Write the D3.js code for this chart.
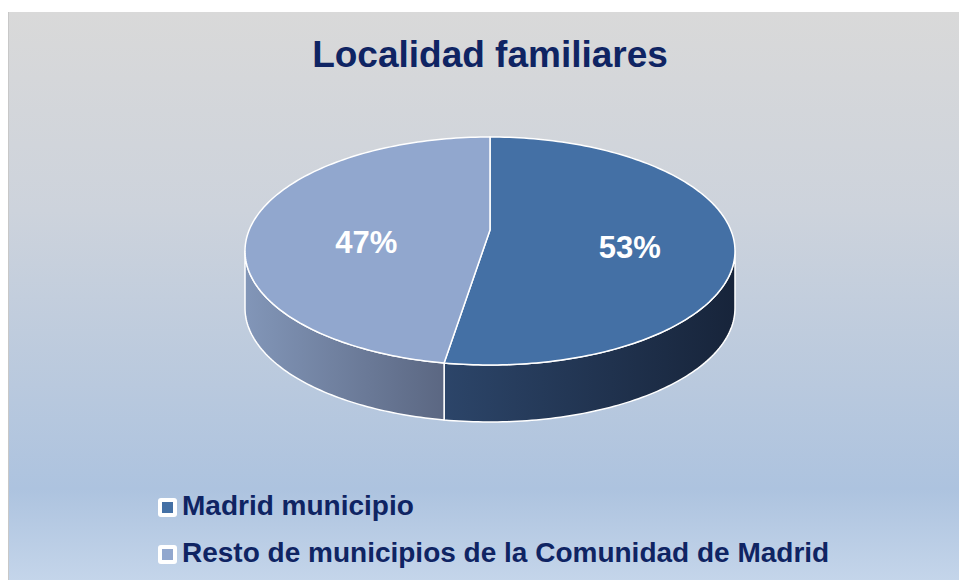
<!DOCTYPE html>
<html>
<head>
<meta charset="utf-8">
<script src="https://cdn.jsdelivr.net/npm/d3@7"></script>
<style>
  html, body { margin: 0; padding: 0; background: #ffffff; }
  svg { display: block; }
  text { font-family: "Liberation Sans", Arial, sans-serif; font-weight: bold; }
</style>
</head>
<body>
<svg id="chart" width="959" height="580"></svg>
<script>
const title = "Localidad familiares";
const categories = ["Madrid municipio", "Resto de municipios de la Comunidad de Madrid"];
const values = [53, 47];
const labels = ["53%", "47%"];
const topColors = ["#4470a5", "#91a7ce"];
const sideColorsLeft = ["#2c4569", "#8296b8"];
const sideColorsRight = ["#17243a", "#5b6782"];

const svg = d3.select("#chart");
const defs = svg.append("defs");

// background gradient
const bg = defs.append("linearGradient").attr("id", "bg").attr("x1", 0).attr("y1", 0).attr("x2", 0).attr("y2", 1);
bg.append("stop").attr("offset", 0).attr("stop-color", "#d9d9d9");
bg.append("stop").attr("offset", 0.35).attr("stop-color", "#cdd3dc");
bg.append("stop").attr("offset", 0.84).attr("stop-color", "#adc3df");
bg.append("stop").attr("offset", 1).attr("stop-color", "#c4d5ea");

svg.append("rect").attr("x", 8).attr("y", 12).attr("width", 951).attr("height", 568).attr("fill", "url(#bg)");
svg.append("line").attr("x1", 8.5).attr("x2", 8.5).attr("y1", 12).attr("y2", 580).attr("stroke", "#c8c8c8").attr("stroke-width", 1);

// title
svg.append("text").attr("x", 490).attr("y", 67).attr("text-anchor", "middle")
  .attr("font-size", 37).attr("fill", "#0f2463").text(title);

// pie geometry
const cx = 490, cy = 251, rx = 245, ry = 114, depth = 57;
const hubY = 230; // projected centre of top face
const pie = d3.pie().sort(null).startAngle(0).endAngle(2 * Math.PI).value(d => d);
const arcs = pie(values);

const px = a => cx + rx * Math.sin(a);
const py = a => cy - ry * Math.cos(a);

function ellipsePts(a0, a1, dy) {
  const n = Math.max(2, Math.ceil(Math.abs(a1 - a0) / 0.02));
  const pts = [];
  for (let i = 0; i <= n; i++) {
    const a = a0 + (a1 - a0) * i / n;
    pts.push([px(a), py(a) + dy]);
  }
  return pts;
}
const line = d3.line();

// side gradients
arcs.forEach((d, i) => {
  const g = defs.append("linearGradient").attr("id", "side" + i).attr("gradientUnits", "objectBoundingBox")
    .attr("x1", 0).attr("y1", 0).attr("x2", 1).attr("y2", 0);
  g.append("stop").attr("offset", 0).attr("stop-color", sideColorsLeft[i]);
  g.append("stop").attr("offset", 1).attr("stop-color", sideColorsRight[i]);
});

// sides (front half: angles between PI/2 and 3PI/2)
const pieG = svg.append("g");
arcs.forEach((d, i) => {
  const s = Math.max(d.startAngle, Math.PI / 2);
  const e = Math.min(d.endAngle, 3 * Math.PI / 2);
  if (e <= s) return;
  const topPts = ellipsePts(s, e, 0);
  const botPts = ellipsePts(e, s, depth);
  pieG.append("path").attr("d", line(topPts.concat(botPts)) + "Z")
    .attr("fill", `url(#side${i})`).attr("stroke", "#ffffff").attr("stroke-width", 1.5)
    .attr("stroke-linejoin", "round");
});

// tops
arcs.forEach((d, i) => {
  const pts = [[cx, hubY]].concat(ellipsePts(d.startAngle, d.endAngle, 0));
  pieG.append("path").attr("d", line(pts) + "Z")
    .attr("fill", topColors[i]).attr("stroke", "#ffffff").attr("stroke-width", 1.5)
    .attr("stroke-linejoin", "round");
});

// labels
arcs.forEach((d, i) => {
  const mid = (d.startAngle + d.endAngle) / 2;
  const lx = cx + 8 + rx * 0.54 * Math.sin(mid);
  const ly = 245 - ry * 0.2 * Math.cos(mid);
  pieG.append("text").attr("x", lx).attr("y", ly).attr("text-anchor", "middle")
    .attr("dominant-baseline", "central").attr("font-size", 31).attr("fill", "#ffffff").text(labels[i]);
});

// legend
const legend = svg.append("g");
categories.forEach((c, i) => {
  const y = 515 + i * 47;
  const g = legend.append("g");
  g.append("rect").attr("x", 158).attr("y", y - 17).attr("width", 19).attr("height", 19).attr("rx", 3)
    .attr("fill", "#ffffff");
  g.append("rect").attr("x", 162).attr("y", y - 13).attr("width", 11).attr("height", 11).attr("fill", topColors[i]);
  g.append("text").attr("x", 182).attr("y", y).attr("font-size", 28).attr("fill", "#0f2463").text(c);
});
</script>
</body>
</html>
